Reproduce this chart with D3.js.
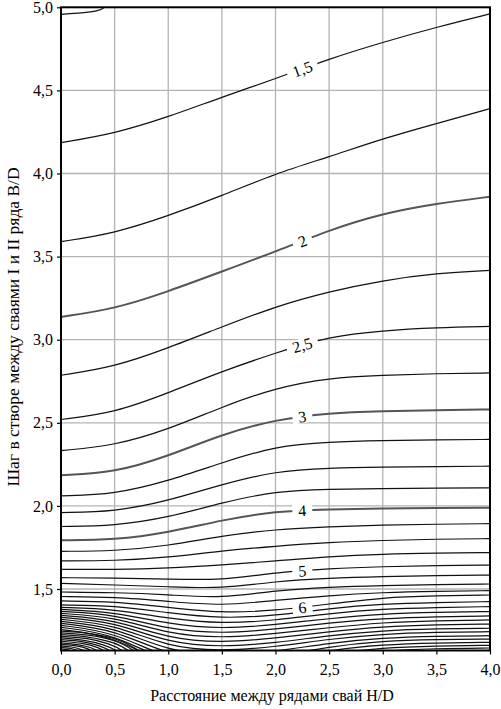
<!DOCTYPE html>
<html>
<head>
<meta charset="utf-8">
<script src="https://cdn.jsdelivr.net/npm/d3@7"></script>
<style>
  body { margin: 0; background: #fff; }
  text { font-family: "Liberation Serif", "Times New Roman", serif; fill: #000; }
</style>
</head>
<body>
<svg id="chart" width="501" height="709"></svg>
<script>
// ---------------- DATA ----------------
const xTicks = [0, 0.5, 1, 1.5, 2, 2.5, 3, 3.5, 4];
const yTicks = [1.5, 2, 2.5, 3, 3.5, 4, 4.5, 5];
const xTitle = "Расстояние между рядами свай H/D";
const yTitle = "Шаг в створе между сваями I и II ряда B/D";

// x stations at which the through-going contour lines are read
const stationsX = [0, 0.5, 1, 1.5, 2, 2.5, 3, 3.5, 4];

const upperLevels = [1.5, 1.75, 2, 2.25, 2.5, 2.75, 3, 3.25, 3.5, 3.75, 4, 4.25, 4.5, 4.75];
const upperContours = [
  [4.186, 4.24, 4.34, 4.46, 4.57, 4.69, 4.79, 4.88, 4.96],
  [3.59, 3.64, 3.745, 3.866, 4.0, 4.10, 4.21, 4.30, 4.39],
  [3.137, 3.185, 3.29, 3.41, 3.53, 3.66, 3.76, 3.82, 3.86],
  [2.786, 2.836, 2.95, 3.077, 3.20, 3.29, 3.357, 3.40, 3.417],
  [2.52, 2.56, 2.68, 2.81, 2.92, 3.02, 3.055, 3.073, 3.08],
  [2.333, 2.363, 2.46, 2.596, 2.71, 2.77, 2.786, 2.796, 2.80],
  [2.185, 2.20, 2.30, 2.43, 2.52, 2.56, 2.57, 2.576, 2.58],
  [2.06, 2.07, 2.15, 2.26, 2.36, 2.385, 2.393, 2.397, 2.40],
  [1.96, 1.965, 2.03, 2.13, 2.21, 2.228, 2.234, 2.237, 2.239],
  [1.876, 1.88, 1.93, 2.02, 2.089, 2.10, 2.105, 2.107, 2.109],
  [1.793, 1.795, 1.84, 1.915, 1.969, 1.98, 1.985, 1.988, 1.989],
  [1.727, 1.728, 1.76, 1.82, 1.859, 1.875, 1.885, 1.89, 1.893],
  [1.669, 1.67, 1.69, 1.73, 1.758, 1.78, 1.793, 1.80, 1.803],
  [1.618, 1.617, 1.625, 1.645, 1.668, 1.695, 1.71, 1.716, 1.719]
];

const valleyLevels = [5, 5.25, 5.5, 5.75, 6, 6.25, 6.5, 6.75, 7, 7.25, 7.5, 7.75, 8, 8.25, 8.5, 8.75, 9, 9.25];
const valleyContours = [
  [1.568, 1.566, 1.560, 1.552, 1.600, 1.623, 1.635, 1.641, 1.644],
  [1.534, 1.524, 1.514, 1.502, 1.546, 1.566, 1.575, 1.581, 1.584],
  [1.482, 1.479, 1.466, 1.444, 1.492, 1.512, 1.521, 1.527, 1.530],
  [1.455, 1.452, 1.426, 1.398, 1.432, 1.461, 1.479, 1.487, 1.490],
  [1.428, 1.425, 1.390, 1.355, 1.370, 1.410, 1.449, 1.459, 1.464],
  [1.404, 1.401, 1.356, 1.322, 1.340, 1.383, 1.410, 1.419, 1.424],
  [1.389, 1.380, 1.322, 1.290, 1.312, 1.353, 1.380, 1.389, 1.394],
  [1.377, 1.362, 1.289, 1.259, 1.285, 1.323, 1.350, 1.360, 1.364],
  [1.365, 1.347, 1.257, 1.231, 1.258, 1.296, 1.323, 1.334, 1.338],
  [1.353, 1.332, 1.229, 1.204, 1.231, 1.268, 1.299, 1.309, 1.314],
  [1.341, 1.317, 1.202, 1.176, 1.204, 1.244, 1.274, 1.285, 1.289],
  [1.329, 1.302, 1.175, 1.150, 1.176, 1.220, 1.250, 1.261, 1.264],
  [1.317, 1.287, 1.150, 1.126, 1.152, 1.199, 1.229, 1.240, 1.243],
  [1.305, 1.272, 1.124, 1.096, 1.124, 1.175, 1.206, 1.216, 1.219],
  [1.293, 1.256, 1.100, 1.060, 1.090, 1.154, 1.187, 1.196, 1.199],
  [1.281, 1.241, 1.075, 1.025, 1.060, 1.133, 1.166, 1.176, 1.179],
  [1.269, 1.229, 1.051, 0.990, 1.030, 1.109, 1.148, 1.158, 1.161],
  [1.256, 1.217, 1.027, 0.955, 1.000, 1.085, 1.130, 1.142, 1.145]
];

// closed-off arcs in the lower-left corner (left edge -> bottom edge), [x, y] pairs
const cornerLevels = [9.5, 9.75, 10, 10.25, 10.5, 10.75, 11, 11.25, 11.5, 11.75, 12, 12.25];
const cornerContours = [
  [[0, 1.246], [0.25, 1.237], [0.5, 1.207], [0.7, 1.147], [0.85, 1.063]],
  [[0, 1.236], [0.25, 1.226], [0.5, 1.195], [0.68, 1.135], [0.8, 1.051]],
  [[0, 1.226], [0.25, 1.215], [0.5, 1.180], [0.64, 1.129], [0.75, 1.051]],
  [[0, 1.215], [0.25, 1.205], [0.45, 1.172], [0.6, 1.124], [0.7, 1.051]],
  [[0, 1.206], [0.2, 1.195], [0.4, 1.166], [0.55, 1.124], [0.65, 1.051]],
  [[0, 1.195], [0.2, 1.186], [0.35, 1.163], [0.5, 1.118], [0.6, 1.051]],
  [[0, 1.186], [0.2, 1.175], [0.35, 1.150], [0.45, 1.109], [0.55, 1.051]],
  [[0, 1.176], [0.15, 1.168], [0.3, 1.147], [0.4, 1.103], [0.5, 1.051]],
  [[0, 1.166], [0.15, 1.159], [0.25, 1.144], [0.35, 1.103], [0.45, 1.051]],
  [[0, 1.157], [0.1, 1.153], [0.2, 1.138], [0.3, 1.091]],
  [[0, 1.148], [0.1, 1.144], [0.17, 1.129], [0.25, 1.073]],
  [[0, 1.140], [0.08, 1.135], [0.13, 1.118], [0.2, 1.061]]
];

// small arc in the upper-left corner
const topLevel = 1.25;
const topContour = [[0, 4.958], [0.2, 4.966], [0.34, 4.976], [0.42, 5.0], [0.46, 5.04]];

// inline contour labels
const labelLevels = [1.5, 2, 2.5, 3, 4, 5, 6];
const labelTexts = ["1,5", "2", "2,5", "3", "4", "5", "6"];
const labelAtX = 2.25;

// ---------------- CHART ----------------
const plot = { left: 61, right: 490, top: 7.3, bottom: 650.5 };
const x = d3.scaleLinear().domain([0, 4]).range([plot.left, plot.right]);
const y = d3.scaleLinear().domain([1.13, 5]).range([plot.bottom, plot.top]);
const fmt = v => d3.format(".1f")(v).replace(".", ",");

const svg = d3.select("#chart");
svg.append("rect").attr("width", 501).attr("height", 709).attr("fill", "#fff");

svg.append("defs").append("clipPath").attr("id", "plotClip")
  .append("rect")
  .attr("x", plot.left).attr("y", plot.top)
  .attr("width", plot.right - plot.left).attr("height", plot.bottom - plot.top);

// grid
const grid = svg.append("g");
grid.selectAll("line.gx").data(xTicks.filter(v => v > 0 && v < 4)).join("line")
  .attr("x1", d => x(d)).attr("x2", d => x(d))
  .attr("y1", plot.top).attr("y2", plot.bottom)
  .attr("stroke", "#b4b4b4").attr("stroke-width", 1.3);
grid.selectAll("line.gy").data(yTicks.filter(v => v < 5)).join("line")
  .attr("y1", d => y(d)).attr("y2", d => y(d))
  .attr("x1", plot.left).attr("x2", plot.right)
  .attr("stroke", "#b4b4b4").attr("stroke-width", 1.3);

// contours
const lines = [];
upperContours.forEach((ys, i) => lines.push({ level: upperLevels[i], pts: ys.map((v, j) => [stationsX[j], v]) }));
valleyContours.forEach((ys, i) => lines.push({ level: valleyLevels[i], pts: ys.map((v, j) => [stationsX[j], v]) }));
cornerContours.forEach((pts, i) => lines.push({ level: cornerLevels[i], pts }));
lines.push({ level: topLevel, pts: topContour });

const lineGen = d3.line().x(d => x(d[0])).y(d => y(d[1])).curve(d3.curveBasis);
const emph = lv => Number.isInteger(lv) && lv >= 2 && lv <= 4;

const cg = svg.append("g").attr("clip-path", "url(#plotClip)");
const paths = cg.selectAll("path").data(lines).join("path")
  .attr("d", d => lineGen(d.pts))
  .attr("fill", "none")
  .attr("stroke", d => emph(d.level) ? "#555" : "#111")
  .attr("stroke-width", d => emph(d.level) ? 2 : 1.2);

// labels
const lg = svg.append("g");
labelLevels.forEach((lv, i) => {
  const node = paths.filter(d => d.level === lv).node();
  const L = node.getTotalLength();
  const tx = x(labelAtX);
  let lo = 0, hi = L;
  for (let k = 0; k < 40; k++) {
    const mid = (lo + hi) / 2;
    if (node.getPointAtLength(mid).x < tx) lo = mid; else hi = mid;
  }
  const p = node.getPointAtLength(lo);
  const p1 = node.getPointAtLength(Math.max(0, lo - 8));
  const p2 = node.getPointAtLength(Math.min(L, lo + 8));
  const ang = Math.atan2(p2.y - p1.y, p2.x - p1.x) * 180 / Math.PI;
  const g = lg.append("g").attr("transform", `translate(${p.x},${p.y}) rotate(${ang})`);
  const t = g.append("text").text(labelTexts[i])
    .attr("text-anchor", "middle").attr("dy", "0.36em")
    .style("font-size", "16px");
  const bb = t.node().getBBox();
  g.insert("rect", "text")
    .attr("x", -bb.width / 2 - 6).attr("y", -6.5)
    .attr("width", bb.width + 12).attr("height", 13)
    .attr("fill", "#fff");
});

// axes
const xAxis = svg.append("g").attr("transform", `translate(0,${plot.bottom})`)
  .call(d3.axisBottom(x).tickValues(xTicks).tickFormat(fmt).tickSize(4).tickPadding(9));
const yAxis = svg.append("g").attr("transform", `translate(${plot.left},0)`)
  .call(d3.axisLeft(y).tickValues(yTicks).tickFormat(fmt).tickSize(4).tickPadding(4));
[xAxis, yAxis].forEach(a => {
  a.attr("font-family", null);
  a.select(".domain").remove();
  a.selectAll(".tick line").attr("stroke", "#000").attr("stroke-width", 1.2);
  a.selectAll("text").style("font-size", "16px").attr("fill", "#000")
    .style("font-family", '"Liberation Serif", "Times New Roman", serif');
});

// frame
svg.append("rect")
  .attr("x", plot.left).attr("y", plot.top)
  .attr("width", plot.right - plot.left).attr("height", plot.bottom - plot.top)
  .attr("fill", "none").attr("stroke", "#000").attr("stroke-width", 2);

// titles
svg.append("text").text(xTitle)
  .attr("x", 272).attr("y", 701).attr("text-anchor", "middle")
  .style("font-size", "16px");
svg.append("text").text(yTitle)
  .attr("transform", "translate(19,327) rotate(-90)")
  .attr("text-anchor", "middle")
  .style("font-size", "17.5px");
</script>
</body>
</html>
